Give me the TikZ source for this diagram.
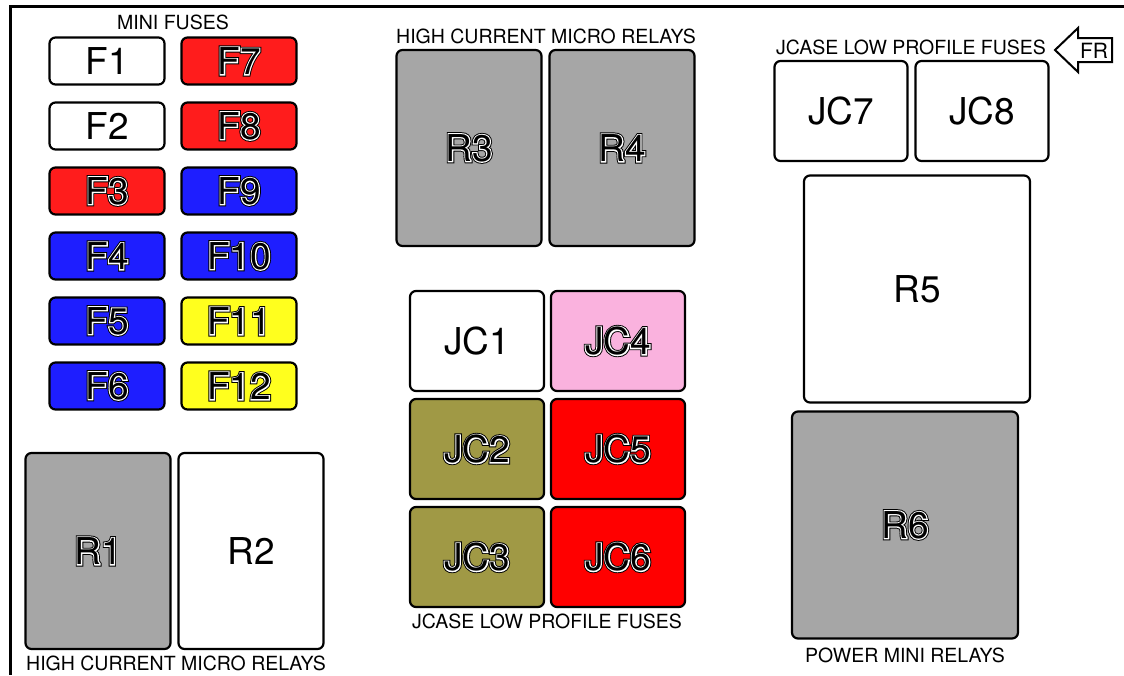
\documentclass[tikz,border=0pt]{standalone}
\usepackage{fontspec}
\setmainfont{TeX Gyre Heros}
\newfontfamily\rimouter[FakeBold=11]{TeX Gyre Heros}
\newfontfamily\rimmid[FakeBold=6]{TeX Gyre Heros}
\usetikzlibrary{positioning}

\definecolor{fusered}{RGB}{255,28,28}
\definecolor{fuseblue}{RGB}{30,30,255}
\definecolor{fuseyellow}{RGB}{255,255,30}
\definecolor{relaygray}{RGB}{166,166,166}
\definecolor{jcolive}{RGB}{160,153,69}
\definecolor{jcpink}{RGB}{250,178,222}
\definecolor{jcred}{RGB}{255,0,0}

% black letters with a white rim and a thin black edge
\newcommand{\rimtext}[1]{%
  \rlap{\color{black}\rimouter #1}%
  \rlap{\color{white}\rimmid #1}%
  #1}

\begin{document}
\begin{tikzpicture}[x=1pt, y=-1pt,
    box/.style={draw, rectangle, rounded corners=6pt, line width=2.2pt,
      font=\fontsize{37}{40}\selectfont, inner sep=0pt},
    fuse/.style={box, minimum width=115pt, minimum height=47pt},
    relay/.style={box, minimum width=145pt, minimum height=196pt, fill=relaygray},
    jcase/.style={box, minimum width=134pt, minimum height=100pt},
    power/.style={box, minimum width=226pt, minimum height=227pt},
    caption/.style={font=\fontsize{19.5}{21}\selectfont, inner sep=0pt}]
      \useasboundingbox (0,0) rectangle (1124,675);

      % Frame
      \draw[line width=3pt] (1124,6) -- (10,6) -- (10,675);

      % Mini fuses
      \node[caption] (minicap) at (173,22) {MINI FUSES};
      \node[fuse] (f1) at (107,61) {F1};
      \node[fuse] (f2) at (107,126) {F2};
      \node[fuse, fill=fusered] (f3) at (107,191) {\rimtext{F3}};
      \node[fuse, fill=fuseblue] (f4) at (107,256) {\rimtext{F4}};
      \node[fuse, fill=fuseblue] (f5) at (107,321) {\rimtext{F5}};
      \node[fuse, fill=fuseblue] (f6) at (107,386) {\rimtext{F6}};
      \node[fuse, fill=fusered] (f7) at (239,61) {\rimtext{F7}};
      \node[fuse, fill=fusered] (f8) at (239,126) {\rimtext{F8}};
      \node[fuse, fill=fuseblue] (f9) at (239,191) {\rimtext{F9}};
      \node[fuse, fill=fuseblue] (f10) at (239,256) {\rimtext{F10}};
      \node[fuse, fill=fuseyellow] (f11) at (239,321) {\rimtext{F11}};
      \node[fuse, fill=fuseyellow] (f12) at (239,386) {\rimtext{F12}};

      % High current micro relays, bottom left
      \node[relay] (r1) at (98,551) {\rimtext{R1}};
      \node[relay, fill=white] (r2) at (251,551) {R2};
      \node[caption] (r12cap) at (176,663) {HIGH CURRENT MICRO RELAYS};

      % High current micro relays, top
      \node[caption] (r34cap) at (546,36) {HIGH CURRENT MICRO RELAYS};
      \node[relay] (r3) at (469,148) {\rimtext{R3}};
      \node[relay] (r4) at (622,148) {\rimtext{R4}};

      % JCase fuses, middle
      \node[jcase] (jc1) at (477,341) {JC1};
      \node[jcase, fill=jcolive] (jc2) at (477,449) {\rimtext{JC2}};
      \node[jcase, fill=jcolive] (jc3) at (477,557) {\rimtext{JC3}};
      \node[jcase, fill=jcpink] (jc4) at (618,341) {\rimtext{JC4}};
      \node[jcase, fill=jcred] (jc5) at (618,449) {\rimtext{JC5}};
      \node[jcase, fill=jcred] (jc6) at (618,557) {\rimtext{JC6}};
      \node[caption] (jcmidcap) at (547,621) {JCASE LOW PROFILE FUSES};

      % JCase fuses, top right
      \node[caption] (jctopcap) at (911,47) {JCASE LOW PROFILE FUSES};
      \node[jcase, minimum width=133pt] (jc7) at (841,111) {JC7};
      \node[jcase, minimum width=133pt] (jc8) at (982,111) {JC8};

      % Front arrow
      \node[font=\fontsize{21}{23}\selectfont, inner sep=0pt] (fr) at (1094,51) {FR};
      \draw[line width=2pt, line join=miter]
        (1055,50) -- (1078,28) -- (1078,38) -- (1112,38) -- (1112,62)
        -- (1078,62) -- (1078,72) -- cycle;

      % Power mini relays
      \node[power, fill=white] (r5) at (917,289) {R5};
      \node[power, fill=relaygray] (r6) at (905,525) {\rimtext{R6}};
      \node[caption] (r56cap) at (905,655) {POWER MINI RELAYS};
    \end{tikzpicture}
\end{document}
